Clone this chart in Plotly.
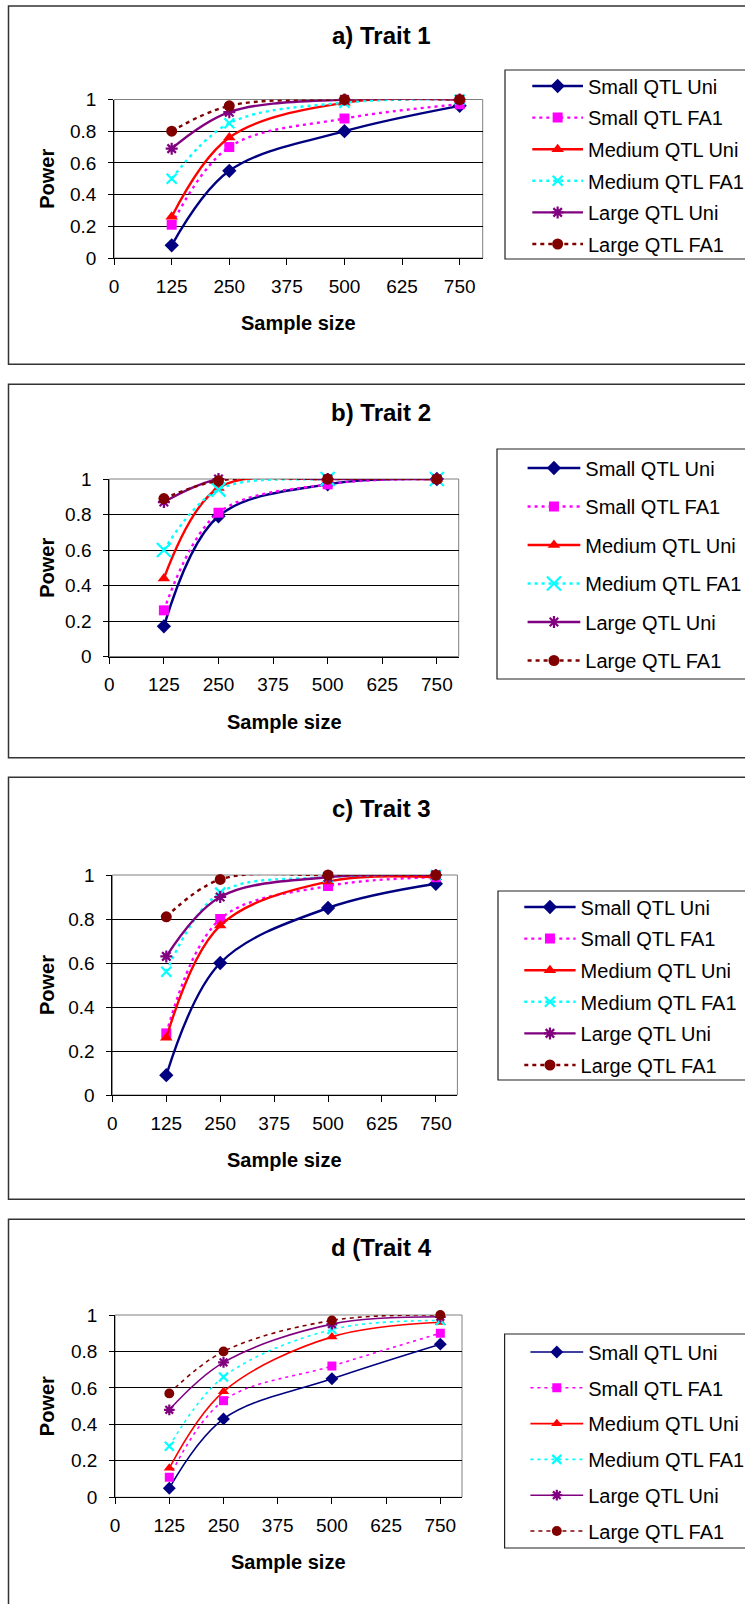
import plotly.graph_objects as go

W, H = 745, 1604

# ---- data ---------------------------------------------------------------
sample_sizes = [125, 250, 500, 750]
x_tick_vals = [0, 125, 250, 375, 500, 625, 750]
x_tick_text = ["0", "125", "250", "375", "500", "625", "750"]
y_tick_vals = [0, 0.2, 0.4, 0.6, 0.8, 1.0]
y_tick_text = ["0", "0.2", "0.4", "0.6", "0.8", "1"]

series_names = ["Small QTL Uni", "Small QTL FA1", "Medium QTL Uni",
                "Medium QTL FA1", "Large QTL Uni", "Large QTL FA1"]
panel_titles = ["a) Trait 1", "b) Trait 2", "c) Trait 3", "d (Trait 4"]
x_title = "Sample size"
y_title = "Power"

# Trait 1 power
t1_small_uni = [0.08, 0.55, 0.80, 0.96]
t1_small_fa1 = [0.21, 0.70, 0.88, 0.97]
t1_medium_uni = [0.26, 0.76, 0.98, 1.00]
t1_medium_fa1 = [0.50, 0.85, 0.98, 1.00]
t1_large_uni = [0.69, 0.92, 1.00, 1.00]
t1_large_fa1 = [0.80, 0.96, 1.00, 1.00]

# Trait 2 power
t2_small_uni = [0.17, 0.79, 0.97, 1.00]
t2_small_fa1 = [0.26, 0.81, 0.97, 1.00]
t2_medium_uni = [0.44, 0.95, 1.00, 1.00]
t2_medium_fa1 = [0.60, 0.94, 1.00, 1.00]
t2_large_uni = [0.87, 1.00, 1.00, 1.00]
t2_large_fa1 = [0.89, 0.99, 1.00, 1.00]

# Trait 3 power
t3_small_uni = [0.09, 0.60, 0.85, 0.96]
t3_small_fa1 = [0.28, 0.80, 0.95, 0.99]
t3_medium_uni = [0.26, 0.77, 0.97, 0.99]
t3_medium_fa1 = [0.56, 0.92, 0.99, 1.00]
t3_large_uni = [0.63, 0.90, 0.99, 1.00]
t3_large_fa1 = [0.81, 0.98, 1.00, 1.00]

# Trait 4 power
t4_small_uni = [0.05, 0.43, 0.65, 0.84]
t4_small_fa1 = [0.11, 0.53, 0.72, 0.90]
t4_medium_uni = [0.16, 0.58, 0.88, 0.96]
t4_medium_fa1 = [0.28, 0.66, 0.92, 0.97]
t4_large_uni = [0.48, 0.74, 0.95, 0.99]
t4_large_fa1 = [0.57, 0.80, 0.97, 1.00]

trait_series = [
    [t1_small_uni, t1_small_fa1, t1_medium_uni, t1_medium_fa1, t1_large_uni, t1_large_fa1],
    [t2_small_uni, t2_small_fa1, t2_medium_uni, t2_medium_fa1, t2_large_uni, t2_large_fa1],
    [t3_small_uni, t3_small_fa1, t3_medium_uni, t3_medium_fa1, t3_large_uni, t3_large_fa1],
    [t4_small_uni, t4_small_fa1, t4_medium_uni, t4_medium_fa1, t4_large_uni, t4_large_fa1],
]

# ---- styling ------------------------------------------------------------
series_styles = [
    dict(color="#000080", dash="solid", symbol="diamond", size=11),
    dict(color="#FF00FF", dash="3px,4px", symbol="square", size=10),
    dict(color="#FF0000", dash="solid", symbol="triangle-up", size=11),
    dict(color="#00FFFF", dash="3px,4px", symbol="x-thin", size=10),
    dict(color="#800080", dash="solid", symbol="asterisk", size=10),
    dict(color="#800000", dash="4px,4px", symbol="circle", size=11),
]

# pixel layout of each panel
panels = [
    dict(plot=(114.1, 482.7, 99.5, 258.0), frame=(6.0, 364.3), title_y=35,
         lbox=(505.0, 70.0, 259.0), lmark=547.3, ltext=588.0, lfirst=86.0, lstep=31.6,
         lw=2.4, msize=1.0, xsize=10),
    dict(plot=(109.3, 458.7, 479.0, 656.5), frame=(384.3, 757.7), title_y=413,
         lbox=(497.0, 449.0, 679.0), lmark=542.6, ltext=585.3, lfirst=468.0, lstep=38.5,
         lw=2.4, msize=1.0, xsize=14),
    dict(plot=(112.4, 457.4, 875.0, 1095.0), frame=(777.3, 1199.3), title_y=808,
         lbox=(498.0, 891.0, 1080.0), lmark=539.3, ltext=580.6, lfirst=907.0, lstep=31.6,
         lw=2.4, msize=1.0, xsize=10),
    dict(plot=(115.1, 462.0, 1315.0, 1497.3), frame=(1219.3, 1640.0), title_y=1247,
         lbox=(504.6, 1334.0, 1548.0), lmark=545.4, ltext=588.2, lfirst=1352.0, lstep=35.8,
         lw=1.6, msize=0.9, xsize=9),
]

FONT = "Liberation Sans, Arial, sans-serif"


def px_x(v):
    return v / W


def px_y(v):
    return 1 - v / H


fig = go.Figure()
shapes = []
annotations = []
layout_extra = {}

for i, (pan, series) in enumerate(zip(panels, trait_series)):
    n = i + 1
    xa = "x" if n == 1 else f"x{n}"
    ya = "y" if n == 1 else f"y{n}"
    leg = "legend" if n == 1 else f"legend{n}"

    for name, vals, st in zip(series_names, series, series_styles):
        size = st["size"] * pan["msize"]
        if st["symbol"] == "x-thin":
            size = pan["xsize"]
        line_only = st["symbol"] in ("x-thin", "asterisk")
        fig.add_trace(go.Scatter(
            x=sample_sizes, y=vals, name=name,
            mode="lines+markers",
            line=dict(color=st["color"], width=pan["lw"], dash=st["dash"],
                      shape="spline", smoothing=1.0),
            marker=dict(symbol=st["symbol"], size=size, color=st["color"],
                        line=dict(color=st["color"], width=2.2 if line_only else 0)),
            xaxis=xa, yaxis=ya, legend=leg, legendgroup=f"{leg}-{name}",
            cliponaxis=False,
        ))

    x0, x1, ytop, ybot = pan["plot"]
    axis_font = dict(family=FONT, size=19, color="black")
    layout_extra["xaxis" if n == 1 else f"xaxis{n}"] = dict(
        domain=[px_x(x0), px_x(x1)], anchor=ya, range=[0, 800],
        tickmode="array", tickvals=x_tick_vals, ticktext=x_tick_text,
        ticks="outside", ticklen=6, tickcolor="black", tickwidth=1,
        showline=True, linecolor="black", linewidth=1,
        showgrid=False, zeroline=False, tickfont=axis_font,
        ticklabelstandoff=5, fixedrange=True,
    )
    layout_extra["yaxis" if n == 1 else f"yaxis{n}"] = dict(
        domain=[px_y(ybot), px_y(ytop)], anchor=xa, range=[0, 1],
        tickmode="array", tickvals=y_tick_vals, ticktext=y_tick_text,
        ticks="outside", ticklen=5, tickcolor="black", tickwidth=1,
        showline=True, linecolor="black", linewidth=1,
        showgrid=True, gridcolor="black", gridwidth=1,
        zeroline=False, tickfont=axis_font,
        ticklabelstandoff=8, fixedrange=True,
    )

    # plot-area border (top and right edges)
    shapes.append(dict(type="rect", xref="paper", yref="paper",
                       x0=px_x(x0), x1=px_x(x1), y0=px_y(ybot), y1=px_y(ytop),
                       layer="below", line=dict(color="#808080", width=1)))

    # outer chart frame
    fy0, fy1 = pan["frame"]
    shapes.append(dict(type="rect", xref="paper", yref="paper",
                       x0=px_x(8.5), x1=px_x(780), y0=px_y(fy1), y1=px_y(fy0),
                       line=dict(color="#333333", width=1.5), layer="below"))

    # legend box
    lx, lt, lb = pan["lbox"]
    shapes.append(dict(type="rect", xref="paper", yref="paper",
                       x0=px_x(lx), x1=px_x(790), y0=px_y(lb), y1=px_y(lt),
                       line=dict(color="#222222", width=1.2), layer="below"))

    legend_left = pan["lmark"] - 20
    layout_extra[leg] = dict(
        x=px_x(legend_left), xanchor="left", xref="paper",
        y=px_y(pan["lfirst"] - 19.5), yanchor="top", yref="paper",
        bgcolor="rgba(0,0,0,0)", borderwidth=0,
        font=dict(family=FONT, size=20, color="black"),
        itemwidth=max(30, pan["ltext"] - legend_left - 10),
        tracegroupgap=pan["lstep"] - 29,
        traceorder="grouped",
    )

    # titles
    cx = (x0 + x1) / 2
    annotations.append(dict(text=f"<b>{panel_titles[i]}</b>", xref="paper", yref="paper",
                            x=px_x(381), y=px_y(pan["title_y"]), showarrow=False,
                            xanchor="center", yanchor="middle",
                            font=dict(family=FONT, size=24, color="black")))
    annotations.append(dict(text=f"<b>{x_title}</b>", xref="paper", yref="paper",
                            x=px_x(cx), y=px_y(ybot + 65), showarrow=False,
                            xanchor="center", yanchor="middle",
                            font=dict(family=FONT, size=20, color="black")))
    annotations.append(dict(text=f"<b>{y_title}</b>", xref="paper", yref="paper",
                            x=px_x(47), y=px_y((ytop + ybot) / 2), showarrow=False,
                            xanchor="center", yanchor="middle", textangle=-90,
                            font=dict(family=FONT, size=20, color="black")))

fig.update_layout(
    width=W, height=H,
    margin=dict(l=0, r=0, t=0, b=0, pad=0, autoexpand=False),
    paper_bgcolor="white", plot_bgcolor="rgba(0,0,0,0)",
    shapes=shapes, annotations=annotations,
    showlegend=True,
    font=dict(family=FONT, color="black"),
    **layout_extra,
)

fig.write_html("out.html")
